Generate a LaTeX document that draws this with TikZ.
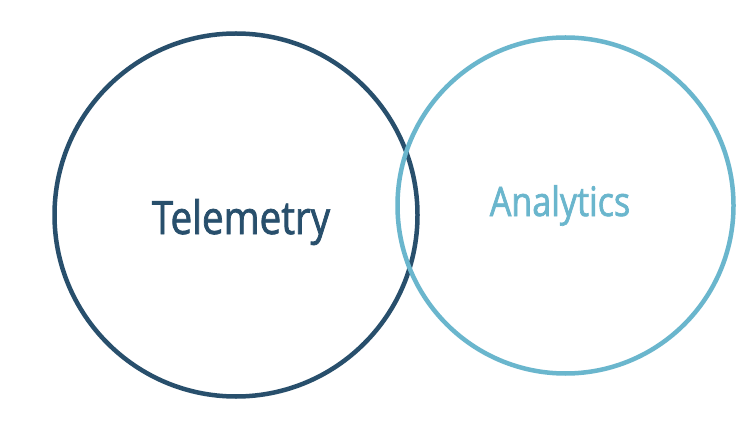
\documentclass[tikz,border=0pt]{standalone}
\usepackage{fontspec}
\newfontfamily\lblfont[FakeStretch=0.84,FakeBold=1.6]{Open Sans}
\definecolor{darkblue}{HTML}{284F6C}
\definecolor{lightblue}{HTML}{6AB6CD}
\begin{document}
\begin{tikzpicture}[x=1pt,y=1pt,
  ring/.style={line width=4.5pt},
  lbl/.style={inner sep=0pt,anchor=base,font=\lblfont}]
\useasboundingbox (0,0) rectangle (751,434);
\fill[white] (0,0) rectangle (751,434);
\draw[ring,darkblue] (236,219) circle[radius=181.5];
\draw[ring,lightblue] (565.5,228.5) circle[radius=168];
\node[lbl,text=darkblue,font=\lblfont\fontsize{46}{50}\selectfont] (tel) at (241,200) {Telemetry};
\node[lbl,text=lightblue,font=\lblfont\fontsize{40.6}{44}\selectfont] (ana) at (560,218) {Analytics};
\end{tikzpicture}
\end{document}
